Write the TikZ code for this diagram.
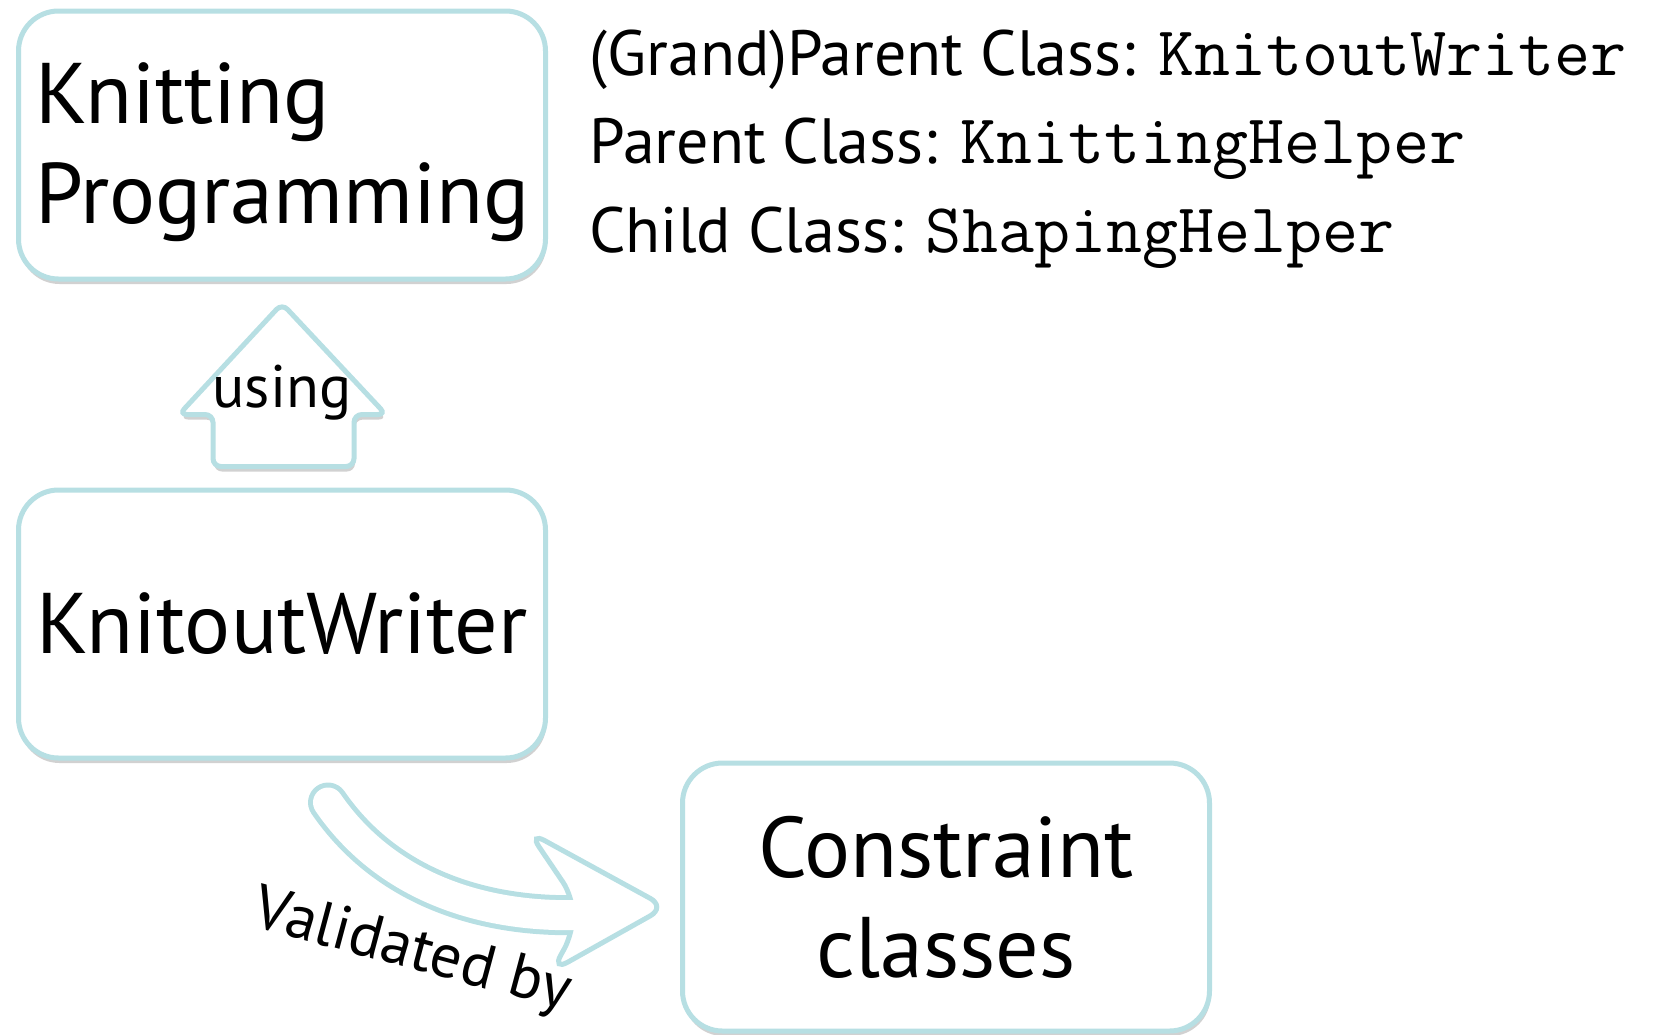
\documentclass[tikz,border=0pt]{standalone}
\usepackage{fontspec}
\setmainfont{PT Sans}
\usetikzlibrary{calc,positioning,shadows}
\definecolor{boxblue}{RGB}{183,223,227}
\newcommand{\cls}[1]{{\fontsize{35}{37}\selectfont\ttfamily #1}}
\tikzset{
        softshadow/.style={drop shadow={shadow xshift=0.5pt, shadow yshift=-2.5pt, opacity=0.18, fill=black}},
        roundbox/.style={shape=rectangle, draw=boxblue, fill=white, line width=2.5pt, rounded corners=20pt, minimum width=263.5pt, minimum height=134pt, font=\fontsize{43}{50}\selectfont, softshadow},
        smalltext/.style={font=\fontsize{32}{37}\selectfont, inner sep=0pt},
        bordered/.style={draw=boxblue, line width=2.5pt, fill=white},
}
\begin{document}
\begin{tikzpicture}[x=0.5pt, y=-0.5pt]
        \useasboundingbox (0,0) rectangle (1670,1034);
        \node[name=prog, roundbox, align=left, text width=247pt] at (282,145) {\rule{0pt}{38pt}Knitting\\Programming};
        \node[name=writer, roundbox] at (282,624) {KnitoutWriter};
        \node[name=cons, roundbox, align=center] at (946,897) {Constraint\\classes};
        % class names on the right
        \node[name=gp, smalltext, anchor=base west] at (589,75) {(Grand)Parent Class: \cls{KnitoutWriter}};
        \node[name=par, smalltext, anchor=base west] at (589,163) {Parent Class: \cls{KnittingHelper}};
        \node[name=child, smalltext, anchor=base west] at (589,252) {Child Class: \cls{ShapingHelper}};
        % block arrow: writer -> prog
        \coordinate (ubot) at ($(writer.north)+(0,-21)$);
        \coordinate (utip) at ($(prog.south)+(0,22)$);
        \draw[bordered, rounded corners=4pt, softshadow] ($(ubot)+(-69,0)$) -- ($(ubot)+(-69,-52)$) -- ($(ubot)+(-103,-52)$) -- (utip) -- ($(ubot)+(104,-52)$) -- ($(ubot)+(72,-52)$) -- ($(ubot)+(72,0)$) -- cycle;
        \node[name=use, smalltext, font=\fontsize{30}{36}\selectfont, anchor=base] at ($(ubot)+(0,-59)$) {using};
        % curved arrow: writer -> cons
        \coordinate (vstart) at ($(writer.south)+(46,42)$);
        \coordinate (vtip) at ($(cons.west)+(-14,10)$);
        \coordinate (vend) at ($(vtip)+(-86,8)$);
        \draw[boxblue, line width=20pt, line cap=round] (vstart) .. controls +(55,80) and +(-105,3) .. (vend);
        \draw[bordered, rounded corners=9pt] ($(vtip)+(-93,-10)$) -- ($(vtip)+(-137,-75)$) -- (vtip) -- ($(vtip)+(-114,64)$) -- ($(vtip)+(-93,26)$) -- cycle;
        \draw[white, line width=15pt, line cap=round] (vstart) .. controls +(55,80) and +(-105,3) .. (vend);
        \node[name=valid, smalltext, font=\fontsize{31}{36}\selectfont, rotate=-15] at ($(vstart)!0.5!(vtip)+(-85,98)$) {Validated by};
\end{tikzpicture}
\end{document}
